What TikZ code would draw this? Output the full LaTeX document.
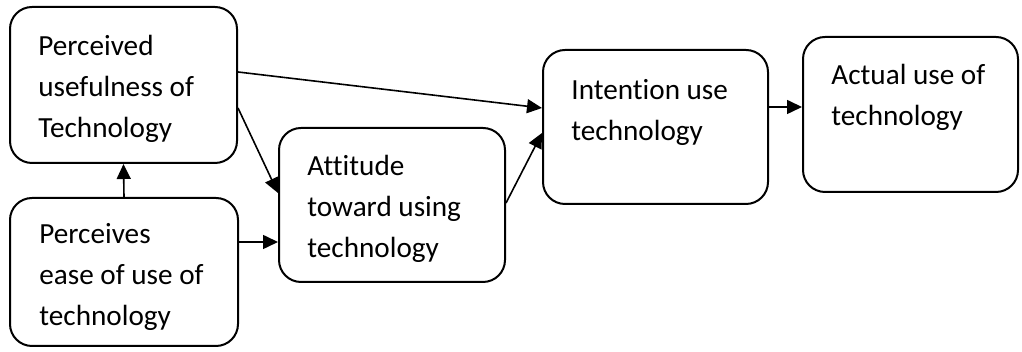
\documentclass[tikz,border=0pt]{standalone}
\usepackage{fontspec}
\setmainfont[Ligatures=NoCommon]{Carlito}
\usetikzlibrary{arrows.meta}

\begin{document}
\begin{tikzpicture}[x=0.5pt,y=0.5pt,
	box/.style={draw, line width=1pt, rounded corners=11pt, minimum width=#1},
	txt/.style={anchor=north west, inner sep=0pt, align=left,
		font=\fontsize{14.6}{20.5}\selectfont},
	arr/.style={line width=0.8pt, -{Triangle[length=7.5pt,width=7pt]}}]
\useasboundingbox (0,0) rectangle (1022,352);
\node[box=113.5pt, minimum height=78pt](pu) at (123.5,267) {};
\node[box=114pt, minimum height=74pt](peou) at (124,80) {};
\node[box=113pt, minimum height=77pt](att) at (392,147) {};
\node[box=112.5pt, minimum height=77pt](int) at (655.5,225) {};
\node[box=107.5pt, minimum height=77.5pt](act) at (910.5,237.5) {};
\node[txt](pu-t) at (38,317) {Perceived\\usefulness of\\Technology};
\node[txt](peou-t) at (39,129) {Perceives\\ease of use of\\technology};
\node[txt](att-t) at (307,197) {Attitude\\toward using\\technology};
\node[txt](int-t) at (571,273) {Intention use\\technology};
\node[txt](act-t) at (831,288) {Actual use of\\technology};
\draw[arr] ([yshift=6.5pt]pu.east) -- ([yshift=9.5pt]int.west);
\draw[arr] ([yshift=-11.5pt]pu.east) -- ([yshift=6pt]att.west);
\draw[arr] (peou.north) -- (pu.south);
\draw[arr] ([yshift=15pt]peou.east) -- ([yshift=15pt]peou.east -| att.west);
\draw[arr] ([yshift=1pt]att.east) -- ([yshift=-3pt]int.west);
\draw[arr] ([yshift=10pt]int.east) -- ([yshift=10pt]int.east -| act.west);
\end{tikzpicture}
\end{document}
